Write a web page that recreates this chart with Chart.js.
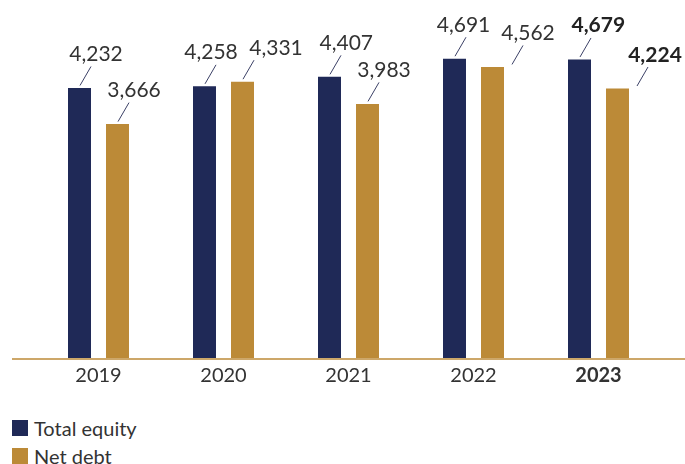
<!DOCTYPE html>
<html>
<head>
<meta charset="utf-8">
<script src="https://cdn.jsdelivr.net/npm/chart.js@4/dist/chart.umd.min.js"></script>
<style>
    body { margin: 0; background: #fff; font-family: Lato, sans-serif; }
    #wrap { position: relative; width: 685px; height: 464px; overflow: hidden; }
    #chart-box { position: absolute; left: 0; top: 0; width: 685px; height: 394px; }
    .legend-item { position: absolute; left: 12px; height: 16px; display: flex; align-items: center; color: #333; font-size: 20px; }
    .legend-item span.box { display: inline-block; width: 16px; height: 16px; margin-right: 6px; }
</style>
</head>
<body>
<div id="wrap">
    <div id="chart-box"><canvas id="chart"></canvas></div>
    <div class="legend-item" style="top:420px"><span class="box" style="background:#1f2957"></span>Total equity</div>
    <div class="legend-item" style="top:448px"><span class="box" style="background:#bc8a37"></span>Net debt</div>
</div>
<script>
const years = ['2019', '2020', '2021', '2022', '2023'];
const totalEquity = [4232, 4258, 4407, 4691, 4679];
const netDebt = [3666, 4331, 3983, 4562, 4224];
const boldYear = '2023';

const NAVY = '#1f2957';
const GOLD = '#bc8a37';

// hand placement of the labels (px from bar centre), so they don't collide
const textShift = [
    [16.5, 6.5, 16.8, 9, 18.8],
    [16.5, 33.5, 16.5, 35.5, 37.5]
];
const lineShift = [
    [0, 0, 0, 0, 0],
    [0, 0, 0, 19, 19]
];

// Value labels with short leader lines above each bar
const leaderLabels = {
    id: 'leaderLabels',
    afterDatasetsDraw(chart) {
        const ctx = chart.ctx;
        ctx.save();
        chart.data.datasets.forEach((ds, di) => {
            const meta = chart.getDatasetMeta(di);
            meta.data.forEach((bar, i) => {
                const x = bar.x, y = bar.y;
                const lx = x + lineShift[di][i];
                ctx.strokeStyle = '#3b4066';
                ctx.lineWidth = 1;
                ctx.beginPath();
                ctx.moveTo(lx + 0.5, y - 2.5);
                ctx.lineTo(lx + 11.5, y - 21.5);
                ctx.stroke();

                const bold = years[i] === boldYear;
                ctx.font = (bold ? 'bold ' : '') + '21px Lato';
                ctx.fillStyle = bold ? '#222' : '#333';
                ctx.textAlign = 'center';
                ctx.textBaseline = 'alphabetic';
                ctx.fillText(ds.data[i].toLocaleString('en-US'), x + textShift[di][i], y - 27);
            });
        });
        // baseline
        const yb = chart.scales.y.getPixelForValue(0);
        ctx.strokeStyle = GOLD;
        ctx.lineWidth = 1.5;
        ctx.beginPath();
        ctx.moveTo(12, yb + 1);
        ctx.lineTo(685, yb + 1);
        ctx.stroke();
        ctx.restore();
    }
};

new Chart(document.getElementById('chart').getContext('2d'), {
    type: 'bar',
    data: {
        labels: years,
        datasets: [
            { label: 'Total equity', data: totalEquity, backgroundColor: NAVY },
            { label: 'Net debt', data: netDebt, backgroundColor: GOLD }
        ]
    },
    options: {
        responsive: true,
        maintainAspectRatio: false,
        animation: false,
        categoryPercentage: 0.608,
        barPercentage: 0.605,
        layout: { padding: { left: 36, right: 24, top: 39, bottom: 0 } },
        plugins: {
            legend: { display: false },
            tooltip: { enabled: false }
        },
        scales: {
            x: {
                grid: { display: false, drawTicks: false },
                border: { display: false },
                ticks: {
                    padding: 6,
                    color: '#333',
                    font: ctx => ({
                        family: 'Lato',
                        size: 20,
                        weight: years[ctx.index] === boldYear ? 'bold' : 'normal'
                    })
                }
            },
            y: {
                display: false,
                min: 0,
                max: 5000
            }
        }
    },
    plugins: [leaderLabels]
});
</script>
</body>
</html>
